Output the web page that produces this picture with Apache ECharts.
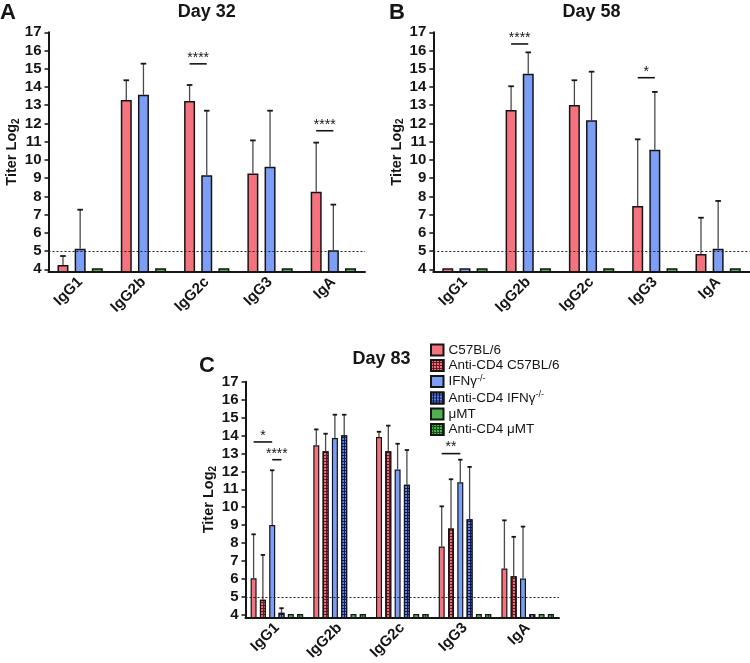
<!DOCTYPE html>
<html>
<head>
<meta charset="utf-8">
<script src="https://cdn.jsdelivr.net/npm/echarts@6/dist/echarts.min.js"></script>
<style>
  html, body { margin: 0; padding: 0; background: #fff; }
  #chart { width: 750px; height: 663px; }
</style>
</head>
<body>
<div id="chart"></div>
<script>
// categories and tick labels
const categories = ['IgG1', 'IgG2b', 'IgG2c', 'IgG3', 'IgA'];
const tickValues = [4, 5, 6, 7, 8, 9, 10, 11, 12, 13, 14, 15, 16, 17];
const groupNames = ['C57BL/6', 'Anti-CD4 C57BL/6', 'IFNγ-/-', 'Anti-CD4 IFNγ-/-', 'μMT', 'Anti-CD4 μMT'];

// Day 32 (mean, upper whisker)
const d32C57 = [4.24, 13.29, 13.23, 9.25, 8.26];
const d32C57Hi = [4.73, 14.37, 14.11, 11.07, 10.95];
const d32Ifng = [5.13, 13.58, 9.16, 9.63, 5.04];
const d32IfngHi = [7.27, 15.28, 12.70, 12.70, 7.55];
const d32Umt = [4.06, 4.06, 4.06, 4.06, 4.06];
const d32UmtHi = [null, null, null, null, null];
// [category, from bar, to bar, y]
const d32Sig = [[2, 0, 1, 15.27], [4, 0, 1, 11.6]];
const d32SigText = ['****', '****'];

// Day 58
const d58C57 = [4.06, 12.74, 13.01, 7.47, 4.84];
const d58C57Hi = [null, 14.04, 14.37, 11.13, 6.83];
const d58Ifng = [4.06, 14.73, 12.18, 10.56, 5.13];
const d58IfngHi = [null, 15.90, 14.84, 13.73, 7.75];
const d58Umt = [4.06, 4.06, 4.06, 4.06, 4.06];
const d58UmtHi = [null, null, null, null, null];
const d58Sig = [[1, 0, 1, 16.36], [3, 0, 1, 14.51]];
const d58SigText = ['****', '*'];

// Day 83
const d83C57 = [6.04, 13.45, 13.92, 7.81, 6.58];
const d83C57Hi = [8.49, 14.34, 14.21, 10.05, 9.27];
const d83Cd4C57 = [4.84, 13.12, 13.12, 8.81, 6.15];
const d83Cd4C57Hi = [7.34, 14.10, 14.55, 11.56, 8.35];
const d83Ifng = [9.01, 13.86, 12.10, 11.39, 6.02];
const d83IfngHi = [12.06, 15.16, 13.54, 12.65, 8.92];
const d83Cd4Ifng = [4.11, 14.01, 11.26, 9.33, 4.05];
const d83Cd4IfngHi = [4.37, 15.16, 13.19, 12.25, null];
const d83Umt = [4.05, 4.05, 4.05, 4.05, 4.05];
const d83Cd4Umt = [4.05, 4.05, 4.05, 4.05, 4.05];
const d83NoErr = [null, null, null, null, null];
const d83Sig = [[0, 0, 2, 13.64], [0, 2, 3, 12.65], [3, 0, 2, 12.99]];
const d83SigText = ['*', '****', '**'];

const FONT = 'Liberation Sans, Arial, sans-serif';
const INK = '#151515';

const styles = {
  red: { color: '#f5737e' },
  redHatch: { color: '#6e1622', decal: { symbol: 'rect', symbolSize: 1, dashArrayX: [2, 1], dashArrayY: [2, 1], color: '#e8707a' } },
  blue: { color: '#7d9ef7' },
  blueHatch: { color: '#101a58', decal: { symbol: 'rect', symbolSize: 1, dashArrayX: [2, 1], dashArrayY: [2, 1], color: '#6686e6' } },
  green: { color: '#4fb04f' },
  greenHatch: { color: '#174f17', decal: { symbol: 'rect', symbolSize: 1, dashArrayX: [2, 1], dashArrayY: [2, 1], color: '#4caf50' } }
};

// panel layouts
const panels = [
  { grid: { left: 48.5, top: 32.3, width: 316.5, height: 239.4 }, min: 3.87, barWidth: 11, barGap: 0.56, cap: 2.8, border: 1.5,
    names: ['A C57BL/6', 'A IFNγ-/-', 'A μMT'], styles: ['red', 'blue', 'green'],
    values: [d32C57, d32Ifng, d32Umt], his: [d32C57Hi, d32IfngHi, d32UmtHi], sig: d32Sig, sigText: d32SigText },
  { grid: { left: 433.3, top: 32.3, width: 316.5, height: 239.4 }, min: 3.87, barWidth: 11, barGap: 0.56, cap: 2.8, border: 1.5,
    names: ['B C57BL/6', 'B IFNγ-/-', 'B μMT'], styles: ['red', 'blue', 'green'],
    values: [d58C57, d58Ifng, d58Umt], his: [d58C57Hi, d58IfngHi, d58UmtHi], sig: d58Sig, sigText: d58SigText },
  { grid: { left: 245.5, top: 381.7, width: 313.5, height: 236 }, min: 3.85, barWidth: 6, barGap: 0.55, cap: 2.2, border: 1.2,
    names: groupNames, styles: ['red', 'redHatch', 'blue', 'blueHatch', 'green', 'greenHatch'],
    values: [d83C57, d83Cd4C57, d83Ifng, d83Cd4Ifng, d83Umt, d83Cd4Umt],
    his: [d83C57Hi, d83Cd4C57Hi, d83IfngHi, d83Cd4IfngHi, d83NoErr, d83NoErr], sig: d83Sig, sigText: d83SigText }
];

const grids = [], xAxes = [], yAxes = [], series = [];

panels.forEach((p, pi) => {
  const n = p.values.length;
  const pitch = p.barWidth * (1 + p.barGap);
  const offset = (k) => (k - (n - 1) / 2) * pitch;

  grids.push(p.grid);
  xAxes.push({
    type: 'category', gridIndex: pi, data: categories,
    axisLine: { lineStyle: { color: INK, width: 2 } },
    axisTick: { alignWithLabel: true, length: 4, lineStyle: { color: INK, width: 1.5 } },
    axisLabel: { rotate: 45, margin: 8, color: INK, fontFamily: FONT, fontWeight: 'bold', fontSize: 15 }
  });
  yAxes.push({
    type: 'value', gridIndex: pi, min: p.min, max: 17,
    name: '{t|Titer Log}{s|2}', nameLocation: 'middle', nameGap: 25, nameRotate: 90,
    nameTextStyle: { rich: {
      t: { fontFamily: FONT, fontWeight: 'bold', fontSize: 14.5, color: INK },
      s: { fontFamily: FONT, fontWeight: 'bold', fontSize: 10, color: INK, padding: [7, 0, 0, 0] }
    } },
    splitLine: { show: false },
    axisLine: { show: true, lineStyle: { color: INK, width: 2 } },
    axisTick: { show: true, length: 4, customValues: tickValues, lineStyle: { color: INK, width: 1.5 } },
    axisLabel: { customValues: tickValues, margin: 7, color: INK, fontFamily: FONT, fontWeight: 'bold', fontSize: 15 }
  });

  p.values.forEach((vals, k) => {
    const st = styles[p.styles[k]];
    const s = {
      type: 'bar', name: p.names[k], xAxisIndex: pi, yAxisIndex: pi,
      data: vals, barWidth: p.barWidth, barGap: (p.barGap * 100) + '%',
      itemStyle: { color: st.color, borderColor: INK, borderWidth: p.border, decal: st.decal },
      emphasis: { disabled: true }, z: 2
    };
    if (k === 0) {
      s.markLine = {
        silent: true, symbol: ['none', 'none'], label: { show: false },
        lineStyle: { type: [2, 2], color: '#222', width: 1 },
        data: [{ yAxis: 5 }]
      };
    }
    series.push(s);
  });

  // error whiskers
  const errData = [];
  p.his.forEach((his, k) => {
    his.forEach((hi, c) => {
      if (hi != null) errData.push([c, k, p.values[k][c], hi]);
    });
  });
  series.push({
    type: 'custom', xAxisIndex: pi, yAxisIndex: pi, z: 3, silent: true,
    data: errData,
    renderItem: (params, api) => {
      const top = api.coord([api.value(0), api.value(3)]);
      const bot = api.coord([api.value(0), api.value(2)]);
      const x = top[0] + offset(api.value(1));
      return { type: 'group', children: [
        { type: 'line', shape: { x1: x, y1: bot[1], x2: x, y2: top[1] }, style: { stroke: '#4a4a4a', lineWidth: 1.3 } },
        { type: 'line', shape: { x1: x - p.cap, y1: top[1], x2: x + p.cap, y2: top[1] }, style: { stroke: INK, lineWidth: 1.8 } }
      ] };
    }
  });

  // significance bars
  series.push({
    type: 'custom', xAxisIndex: pi, yAxisIndex: pi, z: 4, silent: true,
    data: p.sig,
    renderItem: (params, api) => {
      const c = api.coord([api.value(0), api.value(3)]);
      const x1 = c[0] + offset(api.value(1));
      const x2 = c[0] + offset(api.value(2));
      return { type: 'group', children: [
        { type: 'line', shape: { x1: x1, y1: c[1], x2: x2, y2: c[1] }, style: { stroke: INK, lineWidth: 1.6 } },
        { type: 'text', x: (x1 + x2) / 2, y: c[1] + 1,
          style: { text: p.sigText[params.dataIndex], fontFamily: FONT, fontSize: 14, fill: INK, align: 'center', verticalAlign: 'bottom' } }
      ] };
    }
  });
});

const legendRich = {
  sup: { fontFamily: FONT, fontSize: 9, color: INK, lineHeight: 12, padding: [0, 0, 6, 0] }
};

const chart = echarts.init(document.getElementById('chart'));
chart.setOption({
  animation: false,
  backgroundColor: '#fff',
  grid: grids,
  xAxis: xAxes,
  yAxis: yAxes,
  legend: {
    data: groupNames, orient: 'vertical', left: 430, top: 343, padding: 0,
    itemWidth: 12.5, itemHeight: 11, itemGap: 1.5, icon: 'rect', selectedMode: false,
    textStyle: { fontFamily: FONT, fontSize: 13.5, lineHeight: 14, color: INK, rich: legendRich },
    formatter: (name) => name.replace('-/-', '{sup|-/-}')
  },
  graphic: [
    { type: 'text', left: 0, top: 2, style: { text: 'A', fontFamily: FONT, fontWeight: 'bold', fontSize: 22, fill: INK } },
    { type: 'text', left: 389, top: 2, style: { text: 'B', fontFamily: FONT, fontWeight: 'bold', fontSize: 22, fill: INK } },
    { type: 'text', left: 199, top: 355, style: { text: 'C', fontFamily: FONT, fontWeight: 'bold', fontSize: 22, fill: INK } },
    { type: 'text', x: 206.7, y: 3, style: { text: 'Day 32', fontFamily: FONT, fontWeight: 'bold', fontSize: 18, fill: INK, align: 'center' } },
    { type: 'text', x: 591.6, y: 3, style: { text: 'Day 58', fontFamily: FONT, fontWeight: 'bold', fontSize: 18, fill: INK, align: 'center' } },
    { type: 'text', x: 381.5, y: 350, style: { text: 'Day 83', fontFamily: FONT, fontWeight: 'bold', fontSize: 18, fill: INK, align: 'center' } }
  ],
  series: series
});
</script>
</body>
</html>
